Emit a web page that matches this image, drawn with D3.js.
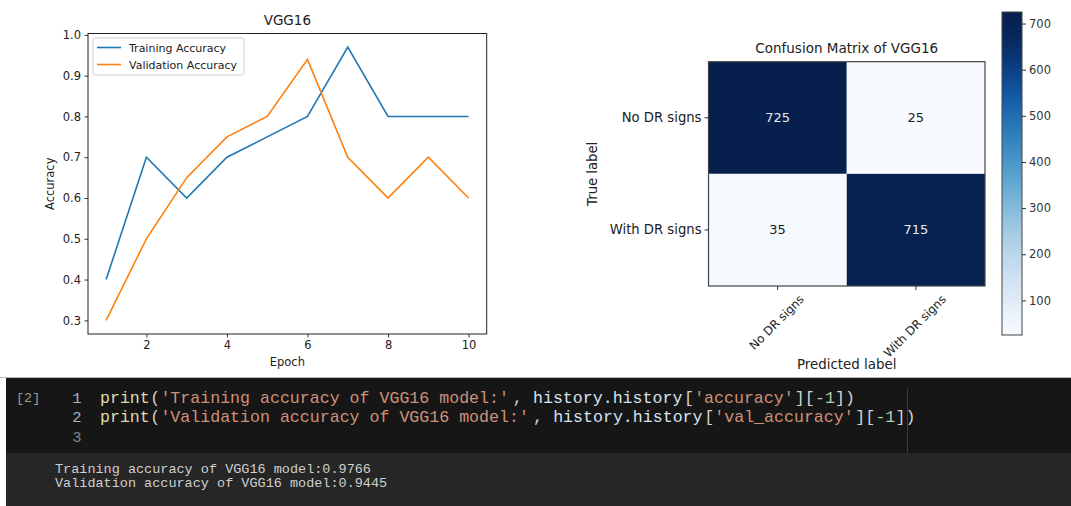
<!DOCTYPE html>
<html>
<head>
<meta charset="utf-8">
<script src="https://cdn.jsdelivr.net/npm/d3@7/dist/d3.min.js"></script>
<style>
  html, body { margin: 0; padding: 0; background: #fff; }
  svg { display: block; }
  text { font-family: "DejaVu Sans", sans-serif; }
  .mono { font-family: "Liberation Mono", "DejaVu Sans Mono", monospace; }
</style>
</head>
<body>
<svg id="fig" width="1071" height="506"></svg>
<script>
// ---- training history ----
const epochs = [1, 2, 3, 4, 5, 6, 7, 8, 9, 10];
const trainAcc = [0.40, 0.70, 0.60, 0.70, 0.75, 0.80, 0.97, 0.80, 0.80, 0.80];
const valAcc   = [0.30, 0.50, 0.65, 0.75, 0.80, 0.94, 0.70, 0.60, 0.70, 0.60];
const xTicks = [2, 4, 6, 8, 10];
const yTicks = [0.3, 0.4, 0.5, 0.6, 0.7, 0.8, 0.9, 1.0];

// ---- confusion matrix ----
const classLabels = ["No DR signs", "With DR signs"];
const confusion = [[725, 25], [35, 715]];
const cbarTicks = [100, 200, 300, 400, 500, 600, 700];

// ---- notebook cell ----
const codeLines = [
  [["print", "fn"], ["(", "p"], ["'Training accuracy of VGG16 model:'", "s"], [", ", "p"],
   ["history.history", "v"], ["[", "p"], ["'accuracy'", "s"], ["][", "p"], ["-1", "n"], ["])", "p"]],
  [["print", "fn"], ["(", "p"], ["'Validation accuracy of VGG16 model:'", "s"], [", ", "p"],
   ["history.history", "v"], ["[", "p"], ["'val_accuracy'", "s"], ["][", "p"], ["-1", "n"], ["])", "p"]],
  []
];
const outputLines = [
  "Training accuracy of VGG16 model:0.9766",
  "Validation accuracy of VGG16 model:0.9445"
];

const svg = d3.select("#fig");
const C_BLUE = "#1f77b4", C_ORANGE = "#ff7f0e";

// ================= accuracy curves =================
const L = { left: 88, right: 486.7, top: 33.5, bottom: 334 };
const x = d3.scaleLinear().domain([0.55, 10.45]).range([L.left, L.right]);
const y = d3.scaleLinear().domain([0.2665, 1.0035]).range([L.bottom, L.top]);

const gL = svg.append("g");
const xAxis = gL.append("g").attr("transform", `translate(0,${L.bottom})`)
  .call(d3.axisBottom(x).tickValues(xTicks).tickFormat(d3.format("d")).tickSizeOuter(0).tickSize(3.5).tickPadding(3.5));
const yAxis = gL.append("g").attr("transform", `translate(${L.left},0)`)
  .call(d3.axisLeft(y).tickValues(yTicks).tickFormat(d3.format(".1f")).tickSizeOuter(0).tickSize(3.5).tickPadding(3.5));
[xAxis, yAxis].forEach(a => {
  a.select(".domain").remove();
  a.selectAll("line").attr("stroke", "#222").attr("stroke-width", 0.9);
  a.selectAll("text").attr("font-size", 11.5).attr("fill", "#222").attr("font-family", "DejaVu Sans");
});
gL.append("rect").attr("x", L.left).attr("y", L.top)
  .attr("width", L.right - L.left).attr("height", L.bottom - L.top)
  .attr("fill", "none").attr("stroke", "#222").attr("stroke-width", 1);

const line = d3.line().x((d, i) => x(epochs[i])).y(d => y(d));
gL.append("path").datum(trainAcc).attr("d", line)
  .attr("fill", "none").attr("stroke", C_BLUE).attr("stroke-width", 1.6);
gL.append("path").datum(valAcc).attr("d", line)
  .attr("fill", "none").attr("stroke", C_ORANGE).attr("stroke-width", 1.6);

gL.append("text").attr("x", (L.left + L.right) / 2).attr("y", 25)
  .attr("text-anchor", "middle").attr("font-size", 13.5).attr("fill", "#222").text("VGG16");
gL.append("text").attr("x", (L.left + L.right) / 2).attr("y", 366)
  .attr("text-anchor", "middle").attr("font-size", 11.5).attr("fill", "#222").text("Epoch");
gL.append("text").attr("transform", `translate(54,${(L.top + L.bottom) / 2}) rotate(-90)`)
  .attr("text-anchor", "middle").attr("font-size", 11.5).attr("fill", "#222").text("Accuracy");

// legend
const lg = gL.append("g");
lg.append("rect").attr("x", 93).attr("y", 38).attr("width", 151).attr("height", 37).attr("rx", 2.5)
  .attr("fill", "#fff").attr("fill-opacity", 0.8).attr("stroke", "#d0d0d0");
[["Training Accuracy", C_BLUE, 47.5], ["Validation Accuracy", C_ORANGE, 64.5]].forEach(([t, c, yy]) => {
  lg.append("line").attr("x1", 97).attr("x2", 121).attr("y1", yy).attr("y2", yy)
    .attr("stroke", c).attr("stroke-width", 1.6);
  lg.append("text").attr("x", 129).attr("y", yy + 4).attr("font-size", 11).attr("fill", "#222").text(t);
});

// ================= confusion matrix =================
const M = { left: 708.5, right: 985, top: 61.7, bottom: 286 };
const cx = d3.scaleBand().domain(d3.range(2)).range([M.left, M.right]);
const cy = d3.scaleBand().domain(d3.range(2)).range([M.top, M.bottom]);
const vmin = 25, vmax = 725;
// Blues ramp, deep navy at the top end
const bluesRamp = d3.interpolateRgbBasis([
  "#f7fbff", "#deebf7", "#c6dbef", "#9ecae1", "#6baed6",
  "#4292c6", "#2171b5", "#0b4f9c", "#082a62", "#061f4d"
]);
const color = d3.scaleSequential(bluesRamp).domain([vmin, vmax]);

const gM = svg.append("g");
const cells = [];
confusion.forEach((row, i) => row.forEach((v, j) => cells.push({ i, j, v })));
gM.selectAll("rect.cell").data(cells).join("rect").attr("class", "cell")
  .attr("x", d => cx(d.j)).attr("y", d => cy(d.i))
  .attr("width", cx.bandwidth()).attr("height", cy.bandwidth())
  .attr("fill", d => color(d.v));
const thresh = (vmin + vmax) / 2;
gM.selectAll("text.val").data(cells).join("text").attr("class", "val")
  .attr("x", d => cx(d.j) + cx.bandwidth() / 2).attr("y", d => cy(d.i) + cy.bandwidth() / 2)
  .attr("text-anchor", "middle").attr("dominant-baseline", "central")
  .attr("font-size", 13).attr("fill", d => d.v > thresh ? "#e6eaf0" : "#1a1a1a")
  .text(d => d.v);
gM.append("rect").attr("x", M.left).attr("y", M.top)
  .attr("width", M.right - M.left).attr("height", M.bottom - M.top)
  .attr("fill", "none").attr("stroke", "#444").attr("stroke-width", 1.2);

// row ticks + labels
classLabels.forEach((lab, i) => {
  const yy = cy(i) + cy.bandwidth() / 2;
  gM.append("line").attr("x1", M.left - 4).attr("x2", M.left).attr("y1", yy).attr("y2", yy)
    .attr("stroke", "#333");
  gM.append("text").attr("x", M.left - 7).attr("y", yy).attr("text-anchor", "end")
    .attr("dominant-baseline", "central").attr("font-size", 13.2).attr("fill", "#222").text(lab);
});
// column ticks + rotated labels (centred under each tick)
classLabels.forEach((lab, j) => {
  const xx = cx(j) + cx.bandwidth() / 2;
  gM.append("line").attr("x1", xx).attr("x2", xx).attr("y1", M.bottom).attr("y2", M.bottom + 4)
    .attr("stroke", "#333");
  const t = gM.append("text").attr("text-anchor", "middle").attr("dominant-baseline", "central")
    .attr("font-size", 11.8).attr("fill", "#222").text(lab);
  const len = t.node().getComputedTextLength();
  const half = (len + 9) * Math.SQRT1_2 / 2;
  t.attr("transform", `translate(${xx - 1},${M.bottom + 8 + half}) rotate(-45)`);
});
gM.append("text").attr("x", (M.left + M.right) / 2).attr("y", 53)
  .attr("text-anchor", "middle").attr("font-size", 13.5).attr("fill", "#222").text("Confusion Matrix of VGG16");
gM.append("text").attr("x", (M.left + M.right) / 2).attr("y", 369)
  .attr("text-anchor", "middle").attr("font-size", 13.4).attr("fill", "#222").text("Predicted label");
gM.append("text").attr("transform", `translate(597,${(M.top + M.bottom) / 2}) rotate(-90)`)
  .attr("text-anchor", "middle").attr("font-size", 13.2).attr("fill", "#222").text("True label");

// colorbar
const CB = { left: 1002, right: 1022, top: 12, bottom: 335 };
const cbY = d3.scaleLinear().domain([vmin, vmax]).range([CB.bottom, CB.top]);
const defs = svg.append("defs");
const grad = defs.append("linearGradient").attr("id", "cbgrad")
  .attr("x1", 0).attr("y1", 1).attr("x2", 0).attr("y2", 0);
d3.range(0, 1.0001, 0.05).forEach(t => {
  grad.append("stop").attr("offset", t).attr("stop-color", bluesRamp(t));
});
const gC = svg.append("g");
gC.append("rect").attr("x", CB.left).attr("y", CB.top)
  .attr("width", CB.right - CB.left).attr("height", CB.bottom - CB.top)
  .attr("fill", "url(#cbgrad)").attr("stroke", "#444").attr("stroke-width", 1);
const cbAxis = gC.append("g").attr("transform", `translate(${CB.right},0)`)
  .call(d3.axisRight(cbY).tickValues(cbarTicks).tickSize(4).tickPadding(3).tickSizeOuter(0));
cbAxis.select(".domain").remove();
cbAxis.selectAll("line").attr("stroke", "#333");
cbAxis.selectAll("text").attr("font-size", 11.5).attr("fill", "#333").attr("font-family", "DejaVu Sans");

// ================= notebook cell =================
const gN = svg.append("g");
gN.append("line").attr("x1", 0).attr("x2", 1071).attr("y1", 377.5).attr("y2", 377.5)
  .attr("stroke", "#b8b8b8").attr("stroke-width", 1);
gN.append("rect").attr("x", 6).attr("y", 378).attr("width", 1065).attr("height", 75).attr("fill", "#161616");
gN.append("rect").attr("x", 6).attr("y", 453).attr("width", 1065).attr("height", 53).attr("fill", "#262626");
gN.append("line").attr("x1", 907.5).attr("x2", 907.5).attr("y1", 388).attr("y2", 453)
  .attr("stroke", "#3c3c3c").attr("stroke-width", 1);

gN.append("text").attr("class", "mono").attr("x", 16).attr("y", 402)
  .attr("font-size", 13.5).attr("fill", "#9a9a9a").text("[2]");

const tokColor = { fn: "#dcdcaa", p: "#d4d4d4", s: "#ce9178", v: "#d8e2ee", n: "#b5cea8" };
const cw = 10.07, codeX = 100, lineGap = 19.5, firstBase = 402.5;
codeLines.forEach((toks, li) => {
  const by = firstBase + li * lineGap;
  gN.append("text").attr("class", "mono").attr("x", 77).attr("y", by).attr("text-anchor", "middle")
    .attr("font-size", 15.5).attr("fill", li < 2 ? "#a8b4c0" : "#7c8690").text(li + 1);
  let col = 0;
  toks.forEach(([s, k]) => {
    gN.append("text").attr("class", "mono").attr("x", codeX + col * cw).attr("y", by)
      .attr("font-size", 16.6).attr("fill", tokColor[k]).attr("xml:space", "preserve").text(s);
    col += s.length;
  });
});

outputLines.forEach((s, i) => {
  gN.append("text").attr("class", "mono").attr("x", 55).attr("y", 473 + i * 14)
    .attr("font-size", 13.5).attr("fill", "#cfcfcf").attr("xml:space", "preserve").text(s);
});
</script>
</body>
</html>
